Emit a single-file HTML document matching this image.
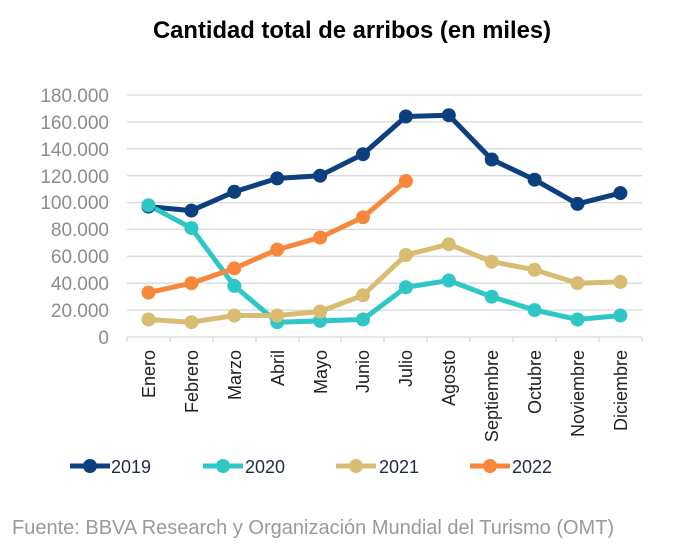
<!DOCTYPE html>
<html><head><meta charset="utf-8"><style>
body{margin:0;background:#fff;}
svg{display:block;font-family:"Liberation Sans",Arial,sans-serif;}
</style></head><body>
<svg width="693" height="547" viewBox="0 0 693 547" xmlns="http://www.w3.org/2000/svg">
<text x="352" y="38" text-anchor="middle" font-size="23.8" font-weight="bold" fill="#000">Cantidad total de arribos (en miles)</text>
<g stroke="#d9d9d9" stroke-width="1.3">
<line x1="127" x2="642" y1="95" y2="95"/><line x1="127" x2="642" y1="121.9" y2="121.9"/><line x1="127" x2="642" y1="148.8" y2="148.8"/><line x1="127" x2="642" y1="175.7" y2="175.7"/><line x1="127" x2="642" y1="202.6" y2="202.6"/><line x1="127" x2="642" y1="229.4" y2="229.4"/><line x1="127" x2="642" y1="256.3" y2="256.3"/><line x1="127" x2="642" y1="283.2" y2="283.2"/><line x1="127" x2="642" y1="310.1" y2="310.1"/><line x1="127" x2="642" y1="337" y2="337"/>
<line x1="127" x2="127" y1="337" y2="342"/><line x1="170" x2="170" y1="337" y2="342"/><line x1="213" x2="213" y1="337" y2="342"/><line x1="256" x2="256" y1="337" y2="342"/><line x1="299" x2="299" y1="337" y2="342"/><line x1="341" x2="341" y1="337" y2="342"/><line x1="384" x2="384" y1="337" y2="342"/><line x1="427" x2="427" y1="337" y2="342"/><line x1="470" x2="470" y1="337" y2="342"/><line x1="513" x2="513" y1="337" y2="342"/><line x1="556" x2="556" y1="337" y2="342"/><line x1="599" x2="599" y1="337" y2="342"/><line x1="642" x2="642" y1="337" y2="342"/>
</g>
<g font-size="19" fill="#8c8c8c" text-anchor="end">
<text x="109" y="102">180.000</text><text x="109" y="129">160.000</text><text x="109" y="156">140.000</text><text x="109" y="183">120.000</text><text x="109" y="209">100.000</text><text x="109" y="236">80.000</text><text x="109" y="263">60.000</text><text x="109" y="290">40.000</text><text x="109" y="317">20.000</text><text x="109" y="344">0</text>
</g>
<g font-size="18" fill="#222" text-anchor="end">
<text transform="translate(155,350) rotate(-90)">Enero</text>
<text transform="translate(198,350) rotate(-90)">Febrero</text>
<text transform="translate(241,350) rotate(-90)">Marzo</text>
<text transform="translate(284,350) rotate(-90)">Abril</text>
<text transform="translate(327,350) rotate(-90)">Mayo</text>
<text transform="translate(369,350) rotate(-90)">Junio</text>
<text transform="translate(412,350) rotate(-90)">Julio</text>
<text transform="translate(455,350) rotate(-90)">Agosto</text>
<text transform="translate(498,350) rotate(-90)">Septiembre</text>
<text transform="translate(541,350) rotate(-90)">Octubre</text>
<text transform="translate(584,350) rotate(-90)">Noviembre</text>
<text transform="translate(627,350) rotate(-90)">Diciembre</text>
</g>
<g fill="none" stroke-width="5" stroke-linejoin="round">
<polyline stroke="#0c3f7e" points="148.5,206.6 191.4,210.6 234.3,191.8 277.2,178.4 320.1,175.7 363,154.2 405.9,116.5 448.8,115.2 491.7,159.5 534.6,179.7 577.5,203.9 620.4,193.1"/>
<polyline stroke="#2ec7c6" points="148.5,205.2 191.4,228.1 234.3,285.9 277.2,322.2 320.1,320.9 363,319.5 405.9,287.3 448.8,280.5 491.7,296.7 534.6,310.1 577.5,319.5 620.4,315.5"/>
<polyline stroke="#d8bc72" points="148.5,319.5 191.4,322.2 234.3,315.5 277.2,315.5 320.1,311.5 363,295.3 405.9,255 448.8,244.2 491.7,261.7 534.6,269.8 577.5,283.2 620.4,281.9"/>
<polyline stroke="#f7883b" points="148.5,292.6 191.4,283.2 234.3,268.4 277.2,249.6 320.1,237.5 363,217.3 405.9,181"/>
</g>
<g fill="#0c3f7e"><circle cx="148.5" cy="206.6" r="7"/><circle cx="191.4" cy="210.6" r="7"/><circle cx="234.3" cy="191.8" r="7"/><circle cx="277.2" cy="178.4" r="7"/><circle cx="320.1" cy="175.7" r="7"/><circle cx="363" cy="154.2" r="7"/><circle cx="405.9" cy="116.5" r="7"/><circle cx="448.8" cy="115.2" r="7"/><circle cx="491.7" cy="159.5" r="7"/><circle cx="534.6" cy="179.7" r="7"/><circle cx="577.5" cy="203.9" r="7"/><circle cx="620.4" cy="193.1" r="7"/></g>
<g fill="#2ec7c6"><circle cx="148.5" cy="205.2" r="7"/><circle cx="191.4" cy="228.1" r="7"/><circle cx="234.3" cy="285.9" r="7"/><circle cx="277.2" cy="322.2" r="7"/><circle cx="320.1" cy="320.9" r="7"/><circle cx="363" cy="319.5" r="7"/><circle cx="405.9" cy="287.3" r="7"/><circle cx="448.8" cy="280.5" r="7"/><circle cx="491.7" cy="296.7" r="7"/><circle cx="534.6" cy="310.1" r="7"/><circle cx="577.5" cy="319.5" r="7"/><circle cx="620.4" cy="315.5" r="7"/></g>
<g fill="#d8bc72"><circle cx="148.5" cy="319.5" r="7"/><circle cx="191.4" cy="322.2" r="7"/><circle cx="234.3" cy="315.5" r="7"/><circle cx="277.2" cy="315.5" r="7"/><circle cx="320.1" cy="311.5" r="7"/><circle cx="363" cy="295.3" r="7"/><circle cx="405.9" cy="255" r="7"/><circle cx="448.8" cy="244.2" r="7"/><circle cx="491.7" cy="261.7" r="7"/><circle cx="534.6" cy="269.8" r="7"/><circle cx="577.5" cy="283.2" r="7"/><circle cx="620.4" cy="281.9" r="7"/></g>
<g fill="#f7883b"><circle cx="148.5" cy="292.6" r="7"/><circle cx="191.4" cy="283.2" r="7"/><circle cx="234.3" cy="268.4" r="7"/><circle cx="277.2" cy="249.6" r="7"/><circle cx="320.1" cy="237.5" r="7"/><circle cx="363" cy="217.3" r="7"/><circle cx="405.9" cy="181" r="7"/></g>
<g stroke-width="5">
<line x1="70" x2="110" y1="466" y2="466" stroke="#0c3f7e"/><circle cx="90" cy="466" r="7" fill="#0c3f7e"/>
<line x1="203" x2="243" y1="466" y2="466" stroke="#2ec7c6"/><circle cx="223" cy="466" r="7" fill="#2ec7c6"/>
<line x1="336" x2="376" y1="466" y2="466" stroke="#d8bc72"/><circle cx="356" cy="466" r="7" fill="#d8bc72"/>
<line x1="470" x2="510" y1="466" y2="466" stroke="#f7883b"/><circle cx="490" cy="466" r="7" fill="#f7883b"/>
</g>
<g font-size="18" fill="#1f2a44">
<text x="111" y="473">2019</text><text x="245" y="473">2020</text><text x="379" y="473">2021</text><text x="512" y="473">2022</text>
</g>
<text x="12" y="534" font-size="20" fill="#9a9a9a">Fuente: BBVA Research y Organización Mundial del Turismo (OMT)</text>
</svg>
</body></html>
